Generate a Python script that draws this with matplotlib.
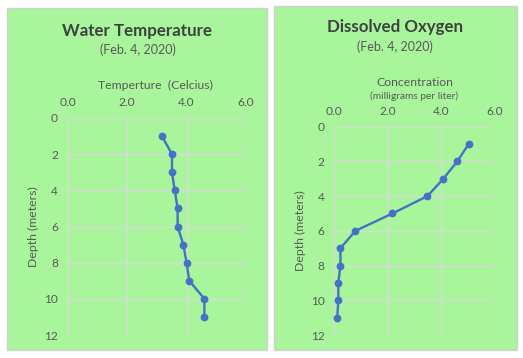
import matplotlib
matplotlib.use("Agg")
import matplotlib.pyplot as plt
from matplotlib.patches import Rectangle

# ---- data ----
depth = [1, 2, 3, 4, 5, 6, 7, 8, 9, 10, 11]
temperature = [3.17, 3.51, 3.51, 3.60, 3.70, 3.70, 3.89, 4.00, 4.09, 4.60, 4.60]
oxygen = [5.04, 4.61, 4.09, 3.49, 2.18, 0.79, 0.23, 0.23, 0.15, 0.15, 0.11]
x_ticks = [0, 2, 4, 6]
y_ticks = [0, 2, 4, 6, 8, 10, 12]

W, H = 523, 358
BG = "#a8f59c"
LINE = "#4472c4"
TXT = "#595959"
TITLE = "#404040"
GRID = "#d9d9d9"
FONT = ["Lato", "DejaVu Sans"]

plt.rcParams["font.family"] = FONT

fig = plt.figure(figsize=(W / 100, H / 100), dpi=100)
fig.patch.set_facecolor("white")


def px(x0, y0, x1, y1):
    return [x0 / W, 1 - y1 / H, (x1 - x0) / W, (y1 - y0) / H]


def ftext(x, y, s, **kw):
    fig.text(x / W, 1 - y / H, s, ha="center", va="center", **kw)


# panels
for (x0, y0, x1, y1) in [(7, 8, 267, 350), (274, 6, 517, 350)]:
    fig.patches.append(Rectangle((x0 / W, 1 - y1 / H), (x1 - x0) / W, (y1 - y0) / H,
                                 transform=fig.transFigure, facecolor=BG,
                                 edgecolor="#d0d0d0", linewidth=1, zorder=-5))


def make_axes(rect, xs, ys):
    ax = fig.add_axes(px(*rect))
    ax.set_zorder(2)
    ax.set_facecolor("none")
    ax.plot(xs, ys, color=LINE, linewidth=1.7, marker="o", markersize=4.6, zorder=3,
            clip_on=False)
    ax.set_xlim(0, 6)
    ax.set_ylim(12, 0)
    ax.set_xticks(x_ticks)
    ax.set_xticklabels([f"{v:.1f}" for v in x_ticks])
    ax.set_yticks(y_ticks)
    ax.xaxis.tick_top()
    ax.tick_params(length=0, labelsize=8.6, colors=TXT, pad=7)
    ax.grid(True, color=GRID, linewidth=1)
    for s in ax.spines.values():
        s.set_visible(False)
    ax.set_axisbelow(True)
    return ax


ax1 = make_axes((67.7, 118, 246, 335), temperature, depth)
ax2 = make_axes((334.3, 126.7, 494.3, 335), oxygen, depth)

# left texts
ftext(136.7, 31, "Water Temperature", fontsize=12.2, fontweight="bold", color=TITLE)
ftext(137.5, 50, "(Feb. 4, 2020)", fontsize=9, color=TXT)
ftext(155.5, 85, "Temperture  (Celcius)", fontsize=8.8, color=TXT)
ftext(33, 226.5, "Depth (meters)", fontsize=8.8, color=TXT, rotation=90)

# right texts
ftext(395.5, 27, "Dissolved Oxygen", fontsize=12.2, fontweight="bold", color=TITLE)
ftext(395.3, 47, "(Feb. 4, 2020)", fontsize=9, color=TXT)
ftext(414.7, 82, "Concentration", fontsize=8.8, color=TXT)
ftext(414.5, 96, "(milligrams per liter)", fontsize=7.3, color=TXT)
ftext(300, 231, "Depth (meters)", fontsize=8.8, color=TXT, rotation=90)

fig.savefig("out.png", dpi=100)
